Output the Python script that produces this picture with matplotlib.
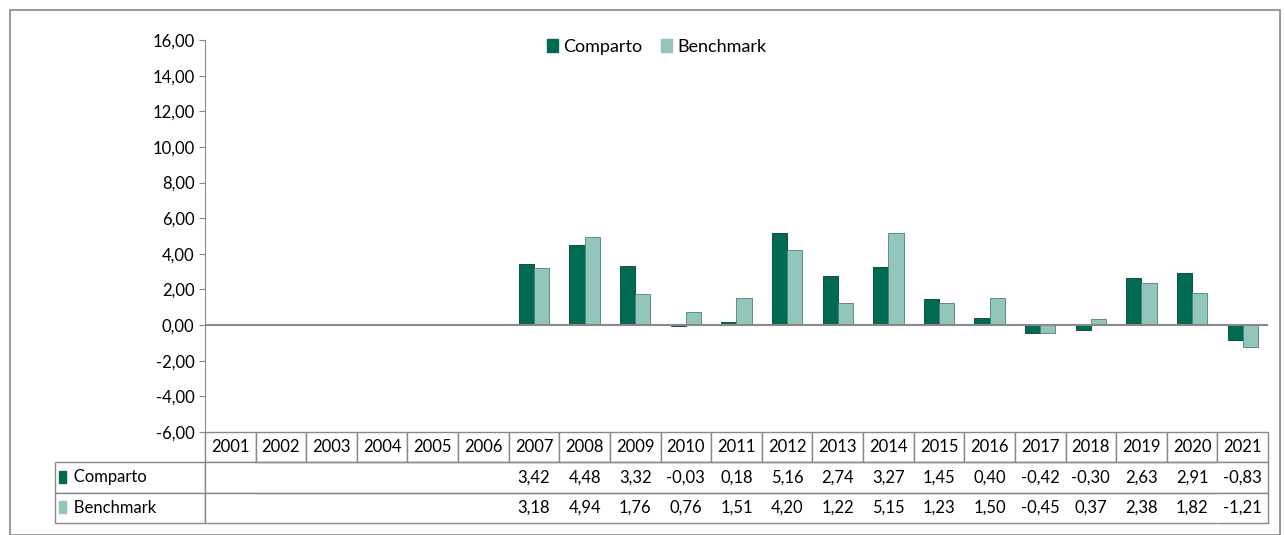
import matplotlib.pyplot as plt
import matplotlib.patches as mpatches
from matplotlib.ticker import FuncFormatter

years = [str(y) for y in range(2001, 2022)]
comparto = [None] * 6 + [3.42, 4.48, 3.32, -0.03, 0.18, 5.16, 2.74, 3.27, 1.45, 0.40, -0.42, -0.30, 2.63, 2.91, -0.83]
benchmark = [None] * 6 + [3.18, 4.94, 1.76, 0.76, 1.51, 4.20, 1.22, 5.15, 1.23, 1.50, -0.45, 0.37, 2.38, 1.82, -1.21]

dark = '#006a52'
light = '#93c6bb'
plt.rcParams['font.family'] = ['Lato', 'DejaVu Sans']
plt.rcParams['font.size'] = 12

fig = plt.figure(figsize=(12.85, 5.35), dpi=100)
fig.patches.append(mpatches.Rectangle((0.008, 0.0), 0.988, 0.982, transform=fig.transFigure,
                                      fill=False, edgecolor='#888888', lw=1.2))
ax = fig.add_axes([0.1595, 0.1925, 0.8273, 0.7327])

fmt = lambda v: f'{v:.2f}'.replace('.', ',')
w = 0.3
for i in range(len(years)):
    if comparto[i] is not None:
        ax.bar(i - w / 2, comparto[i], w, color=dark, edgecolor='#004030', lw=0.6)
    if benchmark[i] is not None:
        ax.bar(i + w / 2, benchmark[i], w, color=light, edgecolor='#4f7f75', lw=0.6)

ax.set_xlim(-0.5, len(years) - 0.5)
ax.set_ylim(-6, 16)
ax.set_yticks(range(-6, 17, 2))
ax.yaxis.set_major_formatter(FuncFormatter(lambda v, p: fmt(v)))
ax.axhline(0, color='#888888', lw=1.5)
ax.set_xticks([])
for s in ['top', 'right', 'bottom']:
    ax.spines[s].set_visible(False)
ax.spines['left'].set_color('#888888')
ax.tick_params(axis='y', length=4, color='#888888', labelsize=12)

h1 = mpatches.Patch(color=dark)
h2 = mpatches.Patch(color=light)
ax.legend([h1, h2], ['Comparto', 'Benchmark'], loc='upper center', ncol=2, frameon=False,
          handlelength=0.6, handletextpad=0.3, columnspacing=1.0, fontsize=13,
          bbox_to_anchor=(0.425, 1.045))

cells = [[''] + years,
         ['Comparto'] + ['' if v is None else fmt(v) for v in comparto],
         ['Benchmark'] + ['' if v is None else fmt(v) for v in benchmark]]
lw_frac = 150 / 1063
tab = ax.table(cellText=cells, cellLoc='center',
               bbox=[-lw_frac, -0.232, 1 + lw_frac, 0.232],
               colWidths=[lw_frac] + [1 / 21] * 21)
tab.auto_set_font_size(False)
tab.set_fontsize(12)
for (r, c), cell in tab.get_celld().items():
    cell.set_edgecolor('#888888')
    if r == 0 and c == 0:
        cell.visible_edges = ''
    if r > 0 and c > 0:
        e = 'TB'
        if c == 1:
            e += 'L'
        if c == 21:
            e += 'R'
        cell.visible_edges = e
    if c == 0 and r > 0:
        cell.get_text().set_ha('left')
        cell.PAD = 0.04
for r, col in [(1, dark), (2, light)]:
    ax.add_patch(mpatches.Rectangle((-lw_frac + 0.004, -0.232 + (2 - r) * 0.0773 + 0.025),
                                    0.006, 0.03, transform=ax.transAxes, color=col, clip_on=False))
    tab[(r, 0)].get_text().set_text('   ' + cells[r][0])

fig.savefig('out.png', dpi=100)
